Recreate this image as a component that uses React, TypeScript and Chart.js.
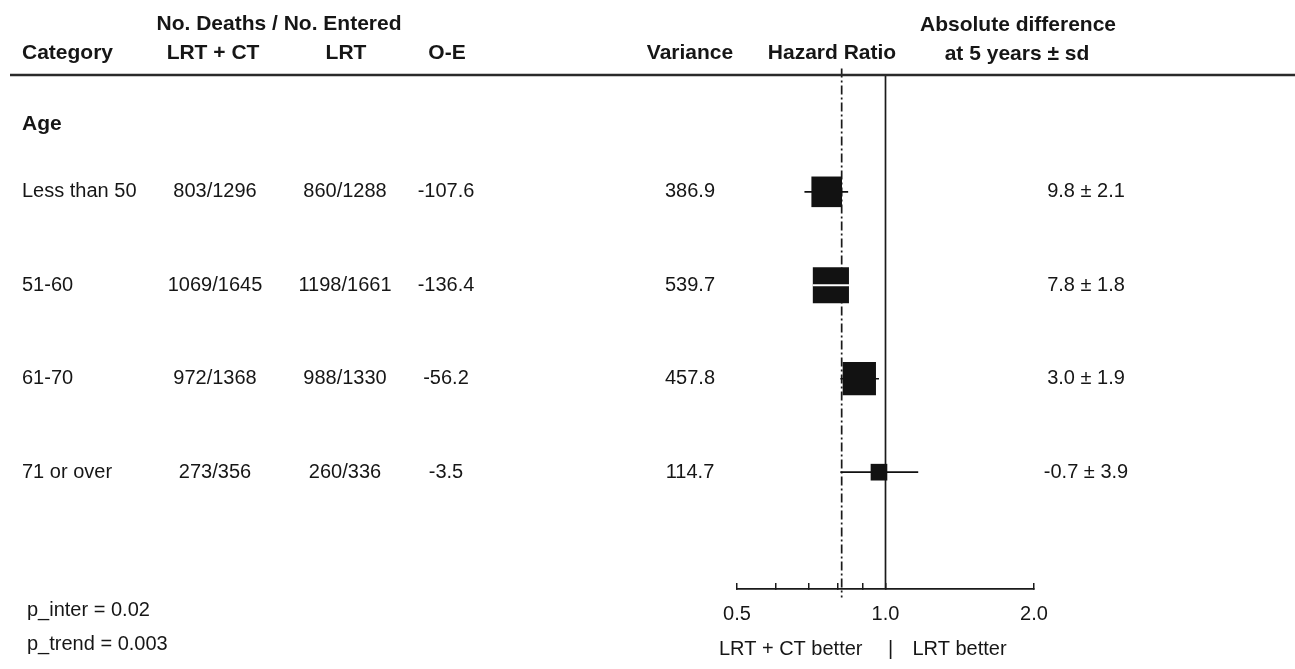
import React, { useEffect, useRef } from "react";
import { Chart, registerables } from "chart.js";

Chart.register(...registerables);

// ---- data ----
const categories = ["Less than 50", "51-60", "61-70", "71 or over"];
const deathsLrtCt = ["803/1296", "1069/1645", "972/1368", "273/356"];
const deathsLrt = ["860/1288", "1198/1661", "988/1330", "260/336"];
const observedMinusExpected = [-107.6, -136.4, -56.2, -3.5];
const variances = [386.9, 539.7, 457.8, 114.7];
const hazardRatios = [0.76, 0.775, 0.885, 0.97];
const ciLower = [0.685, 0.715, 0.81, 0.81];
const ciUpper = [0.84, 0.84, 0.97, 1.165];
const absoluteDifference = ["9.8 ± 2.1", "7.8 ± 1.8", "3.0 ± 1.9", "-0.7 ± 3.9"];
const overallHazardRatio = 0.815;
const majorTicks = [0.5, 1.0, 2.0];
const minorTicks = [0.6, 0.7, 0.8, 0.9];
const groupLabel = "Age";
const pInter = "p_inter = 0.02";
const pTrend = "p_trend = 0.003";
const leftFavours = "LRT + CT better";
const rightFavours = "LRT better";

const FONT = '"Liberation Sans", Arial, Helvetica, sans-serif';
const INK = "#161616";
const Y_MIN = -0.25;
const Y_MAX = 5.25;
const BOX_SCALE = 1.1;

const tablePlugin = {
  id: "forestTable",
  afterDatasetsDraw(chart: any) {
    // a CI that lies wholly inside its box is shown as a white line across the box
    const { ctx } = chart;
    const xs = chart.scales.x;
    const ys = chart.scales.y;
    ctx.save();
    ctx.strokeStyle = "#ffffff";
    ctx.lineWidth = 1.8;
    hazardRatios.forEach((h, i) => {
      const cx = xs.getPixelForValue(h);
      const half = BOX_SCALE * Math.sqrt(variances[i]) * Math.SQRT1_2;
      const lo = xs.getPixelForValue(ciLower[i]);
      const hi = xs.getPixelForValue(ciUpper[i]);
      if (lo >= cx - half && hi <= cx + half) {
        const py = ys.getPixelForValue(i + 1);
        ctx.beginPath();
        ctx.moveTo(cx - half, py);
        ctx.lineTo(cx + half, py);
        ctx.stroke();
      }
    });
    ctx.restore();
  },
  afterDraw(chart: any) {
    const { ctx } = chart;
    const xs = chart.scales.x;
    const ys = chart.scales.y;
    ctx.save();
    ctx.fillStyle = INK;
    ctx.textBaseline = "middle";

    // header rule
    ctx.strokeStyle = "#2a2a2a";
    ctx.lineWidth = 2.5;
    ctx.beginPath();
    ctx.moveTo(10, 75);
    ctx.lineTo(1295, 75);
    ctx.stroke();

    // headers
    ctx.font = `bold 21px ${FONT}`;
    ctx.textAlign = "left";
    ctx.fillText("Category", 22, 53);
    ctx.textAlign = "center";
    ctx.fillText("No. Deaths / No. Entered", 279, 24);
    ctx.fillText("LRT + CT", 213, 53);
    ctx.fillText("LRT", 346, 53);
    ctx.fillText("O-E", 447, 53);
    ctx.fillText("Variance", 690, 53);
    ctx.fillText("Hazard Ratio", 832, 53);
    ctx.fillText("Absolute difference", 1018, 25);
    ctx.fillText("at 5 years ± sd", 1017, 54);

    // group label
    ctx.textAlign = "left";
    ctx.fillText(groupLabel, 22, 124);

    // rows
    ctx.font = `20px ${FONT}`;
    categories.forEach((cat, i) => {
      const py = ys.getPixelForValue(i + 1);
      ctx.textAlign = "left";
      ctx.fillText(cat, 22, py);
      ctx.textAlign = "center";
      ctx.fillText(deathsLrtCt[i], 215, py);
      ctx.fillText(deathsLrt[i], 345, py);
      ctx.fillText(observedMinusExpected[i].toFixed(1), 446, py);
      ctx.fillText(variances[i].toFixed(1), 690, py);
      ctx.fillText(absoluteDifference[i], 1086, py);
    });

    // p values
    ctx.textAlign = "left";
    ctx.fillText(pInter, 27, 610);
    ctx.fillText(pTrend, 27, 644);

    // favours labels
    const xOne = xs.getPixelForValue(1);
    ctx.textAlign = "right";
    ctx.fillText(leftFavours, xOne - 23, 649);
    ctx.textAlign = "center";
    ctx.fillText("|", xOne + 5, 649);
    ctx.textAlign = "left";
    ctx.fillText(rightFavours, xOne + 27, 649);

    ctx.restore();
  },
};

export default function App() {
  const ref = useRef<HTMLCanvasElement>(null);

  useEffect(() => {
    if (!ref.current) return;
    const ciSets = categories.map((_, i) => ({
      type: "scatter" as const,
      data: [
        { x: ciLower[i], y: i + 1 },
        { x: ciUpper[i], y: i + 1 },
      ],
      showLine: true,
      borderColor: "#111",
      borderWidth: 1.7,
      pointRadius: 0,
      order: 2,
    }));
    const chart = new Chart(ref.current, {
      type: "scatter",
      data: {
        datasets: [
          {
            data: [
              { x: 1, y: Y_MIN },
              { x: 1, y: Y_MAX },
            ],
            showLine: true,
            borderColor: "#1a1a1a",
            borderWidth: 1.7,
            pointRadius: 0,
            order: 3,
          },
          {
            data: [
              { x: overallHazardRatio, y: Y_MIN - 0.07 },
              { x: overallHazardRatio, y: Y_MAX + 0.09 },
            ],
            showLine: true,
            borderColor: "#1a1a1a",
            borderWidth: 1.7,
            borderDash: [9, 3, 2, 3],
            pointRadius: 0,
            clip: false as any,
            order: 3,
          },
          ...ciSets,
          {
            data: hazardRatios.map((h, i) => ({ x: h, y: i + 1 })),
            pointStyle: "rect",
            pointRadius: variances.map((v) => BOX_SCALE * Math.sqrt(v)),
            backgroundColor: "#121212",
            borderColor: "#121212",
            borderWidth: 0,
            order: 1,
          },
        ],
      },
      options: {
        animation: false,
        responsive: true,
        maintainAspectRatio: false,
        events: [],
        layout: { padding: { left: 737, right: 261, top: 75, bottom: 20 } },
        plugins: { legend: { display: false }, tooltip: { enabled: false } },
        scales: {
          x: {
            type: "logarithmic",
            min: 0.5,
            max: 2,
            position: "bottom",
            afterFit: (scale: any) => {
              scale.height = 60;
            },
            afterBuildTicks: (scale: any) => {
              scale.ticks = [...majorTicks, ...minorTicks]
                .sort((a, b) => a - b)
                .map((v) => ({ value: v }));
            },
            border: { display: true, color: "#1a1a1a", width: 1.8 },
            grid: {
              drawOnChartArea: false,
              drawTicks: true,
              tickLength: -6,
              color: "#1a1a1a",
              lineWidth: 1.5,
            },
            ticks: {
              autoSkip: false,
              maxRotation: 0,
              padding: 19,
              color: INK,
              font: { size: 20, family: FONT },
              callback: (v: any) =>
                majorTicks.includes(Number(v)) ? Number(v).toFixed(1) : "",
            },
          },
          y: {
            type: "linear",
            display: false,
            reverse: true,
            min: Y_MIN,
            max: Y_MAX,
          },
        },
      },
      plugins: [tablePlugin],
    });
    return () => chart.destroy();
  }, []);

  return (
    <div
      style={{
        position: "absolute",
        left: 0,
        top: 0,
        width: 1295,
        height: 669,
        background: "#fff",
      }}
    >
      <canvas ref={ref} />
    </div>
  );
}
